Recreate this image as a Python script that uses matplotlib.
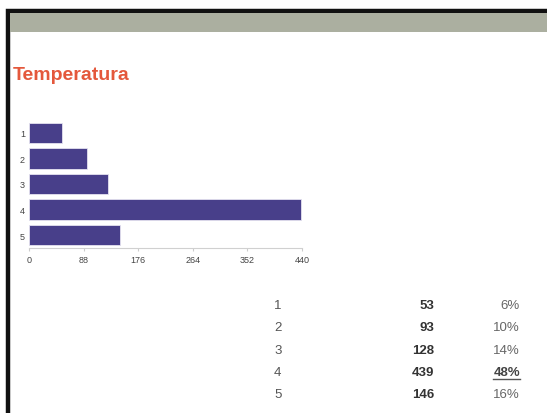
import matplotlib.pyplot as plt
from matplotlib.patches import Rectangle

plt.rcParams['font.family'] = ['Liberation Sans', 'DejaVu Sans']

categories = ['1', '2', '3', '4', '5']
counts = [53, 93, 128, 439, 146]
percents = ['6%', '10%', '14%', '48%', '16%']
x_ticks = [0, 88, 176, 264, 352, 440]

W, H = 547, 414
fig = plt.figure(figsize=(W / 100, H / 100), dpi=100)
fig.patch.set_facecolor('white')


def px(x, y):
    # pixel coords (top-left origin) -> figure fraction
    return x / W, 1 - y / H


# page frame and header band
fig.patches.append(Rectangle(px(8, 430), 600 / W, 418 / H, transform=fig.transFigure,
                             facecolor='white', edgecolor='#111111', linewidth=3.2,
                             zorder=-10))
fig.patches.append(Rectangle(px(10, 33), 600 / W, 19 / H, transform=fig.transFigure,
                             facecolor='#abafa0', edgecolor='none', zorder=-9))

fig.text(*px(13, 75), 'Temperatura', color='#e4583c', fontsize=14,
         fontweight='bold', va='center', ha='left')

# bar chart
l, r, t, b = 29, 302, 121, 249
ax = fig.add_axes([l / W, 1 - b / H, (r - l) / W, (b - t) / H])
ax.patch.set_alpha(0)
ypos = list(range(1, len(categories) + 1))
ax.barh(ypos, counts, height=0.8, color='#483f8a', edgecolor='#e4e2f0', linewidth=0.6)
ax.set_xlim(0, 440)
ax.set_ylim(5.5, 0.5)
ax.set_yticks(ypos)
ax.set_yticklabels(categories)
ax.set_xticks(x_ticks)
ax.tick_params(axis='both', labelsize=6.5, colors='#444444', length=0, pad=3)
ax.tick_params(axis='x', length=2, color='#cccccc', pad=3)
for side in ['top', 'right', 'left']:
    ax.spines[side].set_visible(False)
ax.spines['bottom'].set_color('#d0d0d0')
ax.spines['bottom'].set_linewidth(0.8)

# summary table
row_y = [306, 328, 351, 373, 395]
for cat, n, p, y in zip(categories, counts, percents, row_y):
    fig.text(*px(274, y), cat, fontsize=9.5, color='#555555', ha='left', va='center')
    fig.text(*px(434, y), str(n), fontsize=9.5, color='#333333', fontweight='bold',
             ha='right', va='center')
    top = n == max(counts)
    fig.text(*px(520, y), p, fontsize=9.5, color='#444444' if top else '#666666',
             fontweight='bold' if top else 'normal', ha='right', va='center')
    if top:
        fig.lines.append(plt.Line2D([493 / W, 520 / W], [1 - (y + 7) / H] * 2,
                                    transform=fig.transFigure, color='#555555', lw=1))

fig.savefig('out.png', dpi=100)
